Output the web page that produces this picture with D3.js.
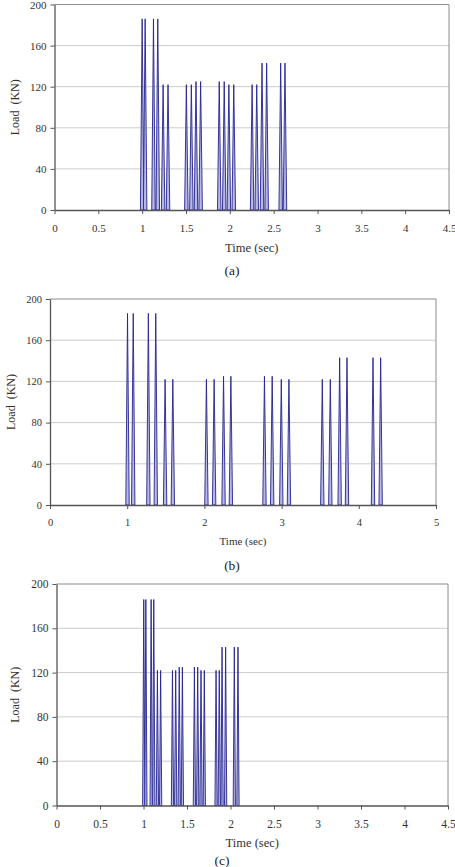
<!DOCTYPE html>
<html>
<head>
<meta charset="utf-8">
<script src="https://cdn.jsdelivr.net/npm/d3@7"></script>
<style>
  body { margin: 0; background: #fff; }
  svg { display: block; }
  svg text { font-family: "Liberation Serif", "Times New Roman", Times, serif; }
</style>
</head>
<body>
<svg id="chart" width="455" height="867"></svg>
<script>
// axle loads (KN), same train for all three runs
const axleLoads = [186,186, 186,186, 122,122, 122,122, 125,125, 125,125, 122,122, 122,122, 143,143, 143,143]

// arrival time of each axle peak (sec)
const timesA = [1.000,1.034, 1.129,1.178, 1.239,1.295, 1.504,1.561, 1.614,1.667,
                1.879,1.936, 1.989,2.045, 2.254,2.307, 2.367,2.420, 2.580,2.629]
const timesB = [1.004,1.078, 1.274,1.370, 1.491,1.591, 2.026,2.126, 2.248,2.343,
                2.778,2.878, 2.996,3.095, 3.527,3.631, 3.752,3.847, 4.184,4.283]
const timesC = [1.003,1.027, 1.088,1.118, 1.160,1.197, 1.333,1.370, 1.411,1.447,
                1.585,1.623, 1.661,1.699, 1.834,1.871, 1.903,1.944, 2.044,2.086]

// half duration of each load pulse (sec)
const pulseHalf = {a: 0.02, b: 0.022, c: 0.013}

const ticksA = [0, 0.5, 1, 1.5, 2, 2.5, 3, 3.5, 4, 4.5]
const ticksB = [0, 1, 2, 3, 4, 5]
const yTicks = [0, 40, 80, 120, 160, 200]

const panels = [
  {id: 'a', times: timesA, xTicks: ticksA, xMax: 4.5,
   left: 54.5, right: 449, top: 4.5, bottom: 210,
   font: 11, pad: 10, titleY: 251.5, titleSize: 12.5, capX: 232, capY: 275},
  {id: 'b', times: timesB, xTicks: ticksB, xMax: 5,
   left: 50, right: 436, top: 299, bottom: 505,
   font: 10.5, pad: 10, titleY: 545, titleSize: 11, capX: 232, capY: 570},
  {id: 'c', times: timesC, xTicks: ticksA, xMax: 4.5,
   left: 56.5, right: 448, top: 584, bottom: 805.5,
   font: 11.5, pad: 10.5, titleY: 847, titleSize: 12.5, capX: 222, capY: 865}
]

const serif = '"Liberation Serif", "Times New Roman", Times, serif'
const svg = d3.select('#chart')

panels.forEach(p => {
  const x = d3.scaleLinear().domain([0, p.xMax]).range([p.left, p.right])
  const y = d3.scaleLinear().domain([0, 200]).range([p.bottom, p.top])
  const g = svg.append('g')

  // grid
  g.append('g')
    .selectAll('line')
    .data(yTicks.filter(d => d > 0 && d < 200))
    .enter().append('line')
      .attr('x1', p.left).attr('x2', p.right)
      .attr('y1', d => y(d)).attr('y2', d => y(d))
      .attr('stroke', '#cccccc')

  // frame
  g.append('path')
    .attr('d', `M${p.left},${p.top}H${p.right}V${p.bottom}`)
    .attr('fill', 'none')
    .attr('stroke', '#8c8c8c')

  // load pulses
  const d = pulseHalf[p.id]
  const pulses = p.times.map((t, i) => [[t - d, 0], [t, axleLoads[i]], [t + d, 0]])
  const line = d3.line().x(v => x(v[0])).y(v => y(v[1]))
  g.append('g')
    .selectAll('path')
    .data(pulses)
    .enter().append('path')
      .attr('d', v => line(v) + 'Z')
      .attr('fill', '#b8b8e4')
      .attr('stroke', '#24248f')
      .attr('stroke-width', 0.9)

  // axes
  const xAxis = g.append('g')
    .attr('transform', `translate(0,${p.bottom})`)
    .call(d3.axisBottom(x).tickValues(p.xTicks).tickFormat(d3.format('~g'))
      .tickSize(4).tickSizeOuter(0).tickPadding(p.pad))
  const yAxis = g.append('g')
    .attr('transform', `translate(${p.left},0)`)
    .call(d3.axisLeft(y).tickValues(yTicks).tickSize(4).tickSizeOuter(0).tickPadding(4))

  ;[xAxis, yAxis].forEach(ax => {
    ax.attr('font-family', serif)
    ax.select('.domain').attr('stroke', '#555').attr('stroke-width', 1.3)
    ax.selectAll('.tick line').attr('stroke', '#555')
    ax.selectAll('text')
      .attr('font-size', p.font)
      .attr('fill', '#333')
  })

  // titles
  g.append('text')
    .attr('x', (p.left + p.right) / 2)
    .attr('y', p.titleY)
    .attr('text-anchor', 'middle')
    .attr('font-family', serif)
    .attr('font-size', p.titleSize)
    .attr('fill', '#333')
    .text('Time (sec)')

  g.append('text')
    .attr('transform', `translate(${p.id === 'b' ? 15 : 19},${(p.top + p.bottom) / 2}) rotate(-90)`)
    .attr('text-anchor', 'middle')
    .attr('font-family', serif)
    .attr('font-size', 12)
    .attr('fill', '#333')
    .attr('xml:space', 'preserve')
    .text('Load  (KN)')

  g.append('text')
    .attr('x', p.capX)
    .attr('y', p.capY)
    .attr('text-anchor', 'middle')
    .attr('font-family', serif)
    .attr('font-size', 13.5)
    .attr('fill', '#222')
    .text(`(${p.id})`)
})
</script>
</body>
</html>
